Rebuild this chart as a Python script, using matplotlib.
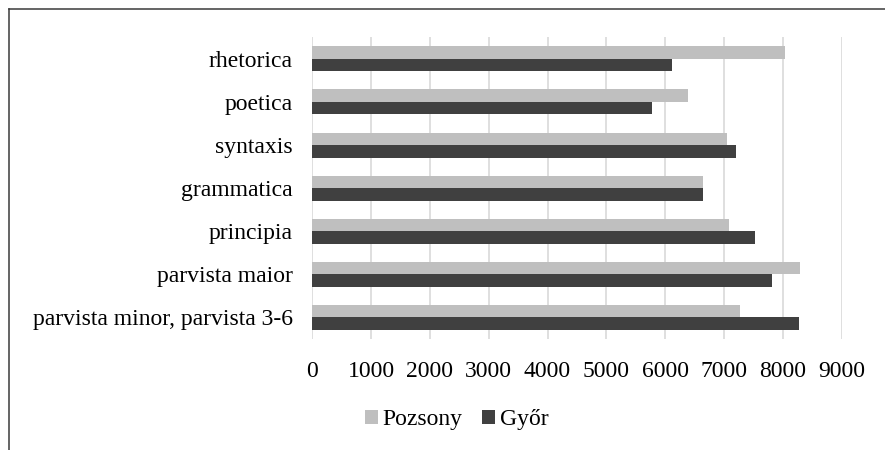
"""Pozsony vs Győr — vízszintes oszlopdiagram osztályonként."""

import matplotlib
matplotlib.use("Agg")
import matplotlib.pyplot as plt
import numpy as np
from matplotlib.lines import Line2D
from matplotlib.patches import Patch

# Adatok (fentről lefelé, ahogy a képen)
categories = ["rhetorica", "poetica", "syntaxis", "grammatica",
              "principia", "parvista maior", "parvista minor, parvista 3-6"]
pozsony = [8040, 6390, 7060, 6640, 7080, 8300, 7270]
gyor    = [6120, 5770, 7200, 6640, 7530, 7820, 8270]
series_names = ["Pozsony", "Győr"]
x_ticks = [0, 1000, 2000, 3000, 4000, 5000, 6000, 7000, 8000, 9000]

C_POZSONY = "#BFBFBF"
C_GYOR    = "#404040"
C_GRID    = "#D9D9D9"
FS = 17

plt.rcParams["font.family"] = ["Liberation Serif", "DejaVu Serif"]

W, H = 885, 450
fig = plt.figure(figsize=(W / 100, H / 100), dpi=100)
ax = fig.add_axes([312.3 / W, 1 - 339 / H, (841.5 - 312.3) / W, (339 - 37.3) / H])

y = np.arange(len(categories))
h = 0.29
ax.barh(y - h / 2, pozsony, height=h, color=C_POZSONY, zorder=3)
ax.barh(y + h / 2, gyor, height=h, color=C_GYOR, zorder=3)

ax.set_xlim(0, 9000)
ax.set_ylim(len(categories) - 0.5, -0.5)   # rhetorica felül
ax.set_xticks(x_ticks)
ax.set_xticklabels([str(t) for t in x_ticks])
ax.set_yticks(y)
ax.set_yticklabels(categories)
ax.tick_params(axis="both", length=0, labelsize=FS, colors="black")
ax.tick_params(axis="y", pad=14)
ax.tick_params(axis="x", pad=16)
ax.xaxis.grid(True, color=C_GRID, linewidth=1.2, zorder=0)
ax.set_axisbelow(True)
for s in ax.spines.values():
    s.set_visible(False)

handles = [Patch(facecolor=C_POZSONY, edgecolor="none"),
           Patch(facecolor=C_GYOR, edgecolor="none")]
fig.legend(handles, series_names, loc="center", ncol=2,
           bbox_to_anchor=(456.5 / W, 1 - 420 / H), frameon=False,
           fontsize=FS, handlelength=0.55, handleheight=0.55,
           handletextpad=0.22, columnspacing=0.8, borderaxespad=0)

# keret (a kép jobb és alsó széle le van vágva)
bx, by = 8.5 / W, 1 - 8.5 / H
fig.add_artist(Line2D([bx, 1.0], [by, by], transform=fig.transFigure,
                      color="#3A3A3A", linewidth=1.1))
fig.add_artist(Line2D([bx, bx], [by, 0.0], transform=fig.transFigure,
                      color="#3A3A3A", linewidth=1.1))

fig.savefig("out.png", dpi=100, facecolor="white")
